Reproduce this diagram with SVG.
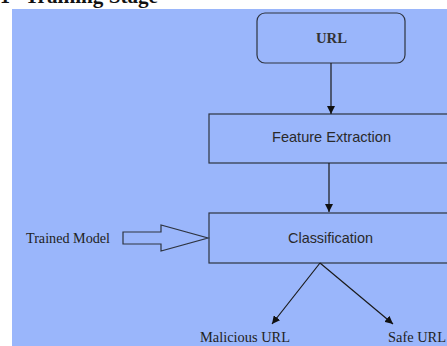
<svg xmlns="http://www.w3.org/2000/svg" width="447" height="346" viewBox="0 0 447 346">
<defs>
<style>
.box{fill:none;stroke:#2e3440;stroke-width:1.2}
.line{fill:none;stroke:#1a1a1a;stroke-width:1.2}
.sans{font-family:"Liberation Sans",Arial,sans-serif;font-size:14.5px;fill:#2a2a2a}
.serif{font-family:"Liberation Serif","Times New Roman",serif;font-size:14px;fill:#222}
.title{font-family:"Liberation Serif","Times New Roman",serif;font-size:20px;font-weight:bold;fill:#111}
</style>
<marker id="ah" viewBox="0 0 10 10" refX="10" refY="5" markerWidth="8" markerHeight="8" markerUnits="userSpaceOnUse" orient="auto">
<path d="M0,0 L10,5 L0,10 Z" fill="#111"/>
</marker>
</defs>
<rect width="447" height="346" fill="#ffffff"/>
<text class="title" x="0" y="3">1</text>
<text class="title" x="25" y="3" textLength="133" lengthAdjust="spacingAndGlyphs">Training Stage</text>
<rect x="12" y="9" width="435" height="337" fill="#9ab6fb"/>
<g id="url">
<rect class="box" x="257" y="13" width="148" height="50" rx="8"/>
<text class="serif" x="316" y="43" textLength="31" lengthAdjust="spacingAndGlyphs" style="font-weight:bold;fill:#333">URL</text>
</g>
<g id="feature">
<rect class="box" x="209" y="114" width="244" height="49"/>
<text class="sans" x="272" y="142" textLength="119" lengthAdjust="spacingAndGlyphs">Feature Extraction</text>
</g>
<g id="classification">
<rect class="box" x="209" y="213" width="244" height="50"/>
<text class="sans" x="288" y="243" textLength="85" lengthAdjust="spacingAndGlyphs">Classification</text>
</g>
<g id="trained">
<text class="serif" x="26" y="243" textLength="84" lengthAdjust="spacingAndGlyphs">Trained Model</text>
</g>
<g id="malicious">
<text class="serif" x="200" y="342" textLength="90" lengthAdjust="spacingAndGlyphs">Malicious URL</text>
</g>
<g id="safe">
<text class="serif" x="388" y="342" textLength="58" lengthAdjust="spacingAndGlyphs">Safe URL</text>
</g>
<g id="connectors">
<line class="line" x1="331" y1="63" x2="331" y2="114" marker-end="url(#ah)"/>
<line class="line" x1="329" y1="163" x2="329" y2="212" marker-end="url(#ah)"/>
<polygon class="box" points="123,232 161,232 161,225 208,238 161,251 161,244 123,244"/>
<line class="line" x1="320" y1="263" x2="272" y2="324" marker-end="url(#ah)"/>
<line class="line" x1="320" y1="263" x2="393" y2="324" marker-end="url(#ah)"/>
</g>
</svg>
